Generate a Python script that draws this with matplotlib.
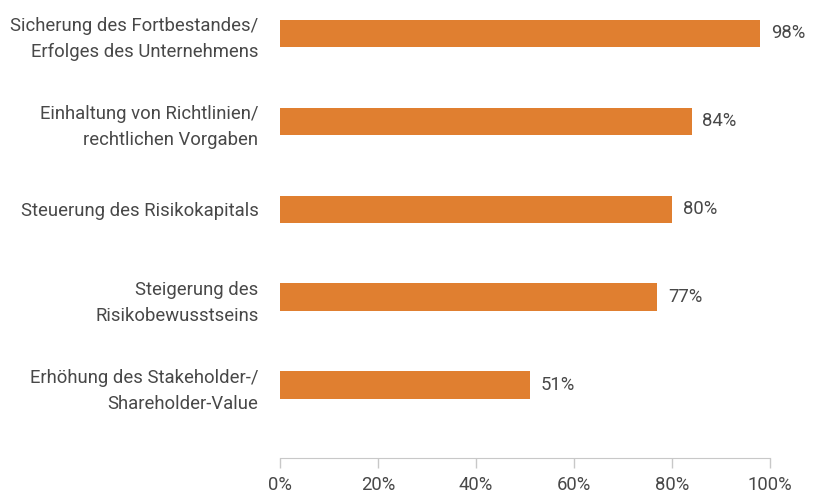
import matplotlib.pyplot as plt

categories = ["Sicherung des Fortbestandes/\nErfolges des Unternehmens",
              "Einhaltung von Richtlinien/\nrechtlichen Vorgaben",
              "Steuerung des Risikokapitals",
              "Steigerung des\nRisikobewusstseins",
              "Erhöhung des Stakeholder-/\nShareholder-Value"]
values = [98, 84, 80, 77, 51]
xticks = [0, 20, 40, 60, 80, 100]

plt.rcParams['font.family'] = ['Roboto', 'DejaVu Sans']
textcol = "#484848"
barcol = "#E07F30"
fs = 13.3
fw = "normal"

fig = plt.figure(figsize=(8.21, 4.96), dpi=100)
ax = fig.add_axes([280 / 821, 0.0766, 490 / 821, 0.92])

pos = list(range(len(categories)))[::-1]
ax.barh(pos, values, height=0.31, color=barcol)
for p, v in zip(pos, values):
    ax.text(v + 2.2, p, f"{v}%", va="center", ha="left", fontsize=fs, color=textcol, fontweight=fw)

ax.set_yticks(pos)
ax.set_yticklabels(categories, fontsize=fs, color=textcol, linespacing=1.55, fontweight=fw)
ax.tick_params(axis="y", length=0, pad=15.5)
ax.set_xlim(0, 100)
ax.set_ylim(-0.83, 4.36)
ax.set_xticks(xticks)
ax.set_xticklabels([f"{t}%" for t in xticks], fontsize=fs, color=textcol, fontweight=fw)
ax.tick_params(axis="x", length=7, color="#C8C8C8", width=1, pad=6)
for s in ["top", "right", "left"]:
    ax.spines[s].set_visible(False)
ax.spines["bottom"].set_color("#C8C8C8")

fig.savefig("out.png", dpi=100)
